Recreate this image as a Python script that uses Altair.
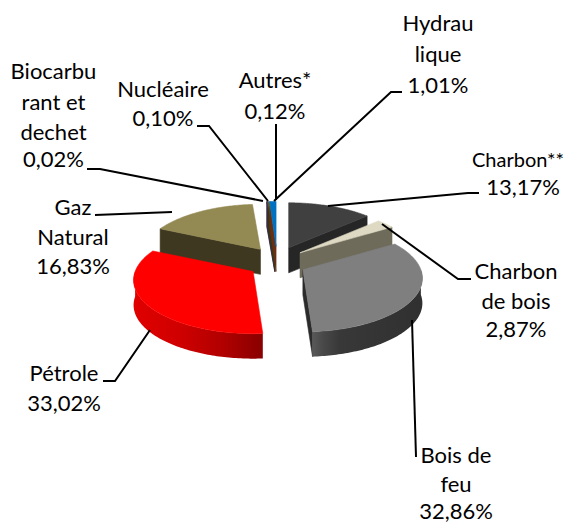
import math
import altair as alt
import pandas as pd

names = ["Charbon**", "Charbon de bois", "Bois de feu", "Pétrole", "Gaz Natural",
         "Biocarburant et dechet", "Nucléaire", "Autres*", "Hydraulique"]
values = [13.17, 2.87, 32.86, 33.02, 16.83, 0.02, 0.10, 0.12, 1.01]
label_lines = [["Charbon**", "13,17%"], ["Charbon", "de bois", "2,87%"], ["Bois de", "feu", "32,86%"],
               ["Pétrole", "33,02%"], ["Gaz", "Natural", "16,83%"],
               ["Biocarbu", "rant et", "dechet", "0,02%"], ["Nucléaire", "0,10%"],
               ["Autres*", "0,12%"], ["Hydrau", "lique", "1,01%"]]

top_colors = ["#404040", "#DDD9C3", "#7F7F7F", "#FF0000", "#938953", "#7F3F98", "#604A7B", "#4F6228", "#0070C0"]
edge_colors = ["#262626", "#6E6B5B", "#2B2B2B", "#A00000", "#3F3821", "#3A1A50", "#3A2A50", "#2F3A18", "#6B2F12"]

# projection / layout (screen pixels)
W, H = 556, 516
CX, CY = 277, 262.5
EX, EY = 29, 16
RX, RY, K = 118, 52.2, 0.159
DEPTH = 25
label_x = [[518, 523], [516] * 3, [456] * 3, [64] * 2, [73] * 3, [53.5] * 4, [163] * 2, [275] * 2, [438] * 3]
label_base = [[167, 195], [279, 308.5, 337], [463, 492, 519], [381, 411], [215, 245, 274],
              [79, 110, 140, 167], [97, 126], [88, 119], [31, 62, 93]]
label_size = [[20, 22], [22] * 3, [22] * 3, [22] * 2, [22] * 3, [22] * 4, [22] * 2, [22] * 2, [22] * 3]
leaders = [[(328, 206), (468, 193), (479, 193)],
           [(382, 224), (458, 279), (471, 279)],
           [(412, 320), (416, 457)],
           [(150, 330), (115, 381), (103, 381)],
           [(172, 212), (95, 215)],
           [(263, 201), (100, 169), (87, 169)],
           [(268, 201), (209, 126), (197, 126)],
           [(276, 200), (276, 124)],
           [(274, 201), (391, 92), (402, 92)]]

x_scale = alt.Scale(domain=[8, 8 + W], range=[0, W])
y_scale = alt.Scale(domain=[8 + H, 8], range=[H, 0])


def rim(a, c, dy=0.0):
    t = math.radians(a)
    s = 1 / (1 + K * math.cos(t))
    return (c[0] + RX * math.sin(t) * s, c[1] - RY * math.cos(t) * s + dy)


def arc_pts(a, b, c, dy=0.0):
    n = max(2, int(abs(b - a)) + 2)
    return [rim(a + (b - a) * i / (n - 1), c, dy) for i in range(n)]


def poly(pts, fill, stroke=None):
    closed = pts + [pts[0]]
    df = pd.DataFrame({"px": [p[0] for p in closed], "py": [p[1] for p in closed], "i": range(len(closed))})
    return alt.Chart(df).mark_line(filled=True, fill=fill, stroke=stroke or "transparent", strokeWidth=0.6,
                                   interpolate="linear").encode(
        x=alt.X("px:Q", scale=x_scale, axis=None),
        y=alt.Y("py:Q", scale=y_scale, axis=None),
        order="i:Q")


def grad(stops):
    return alt.Gradient(gradient="linear", x1=0, x2=1, y1=0, y2=0,
                        stops=[alt.GradientStop(offset=o, color=c) for o, c in stops])


# slice angles from the values
total = sum(values)
bounds = []
cum = 0.0
for v in values:
    bounds.append((cum / total * 360, (cum + v) / total * 360))
    cum += v


def apex(i):
    a, b = bounds[i]
    m = math.radians((a + b) / 2)
    return (CX + EX * math.sin(m), CY - EY * math.cos(m))


def top(i):
    c = apex(i)
    a, b = bounds[i]
    return poly([c] + arc_pts(a, b, c), top_colors[i], top_colors[i])


def radial(i, ang):
    c = apex(i)
    r = rim(ang, c)
    return poly([c, r, (r[0], r[1] + DEPTH), (c[0], c[1] + DEPTH)], edge_colors[i], edge_colors[i])


def outer(i, a, b, fill):
    c = apex(i)
    pts = arc_pts(a, b, c) + arc_pts(b, a, c, DEPTH)
    return poly(pts, fill)


layers = []
# tiny slices at the back
for i in [5, 6, 7]:
    layers += [radial(i, bounds[i][0]), top(i)]
layers += [radial(8, bounds[8][0]), top(8)]
# Gaz
layers += [radial(4, bounds[4][0]), top(4)]
# Charbon
layers += [radial(0, bounds[0][1]), top(0)]
# Charbon de bois
layers += [radial(1, bounds[1][1]), top(1)]
# Bois de feu
layers += [radial(2, bounds[2][1]),
           outer(2, 90, bounds[2][1], grad([(0, "#585858"), (0.1, "#484848"), (0.25, "#383838"), (1, "#303030")])),
           top(2)]
# Pétrole
layers += [outer(3, bounds[3][0], 270, grad([(0, "#E00000"), (0.35, "#D00000"), (0.7, "#B00000"), (1, "#880000")])),
           top(3)]

# leader lines
for pts in leaders:
    df = pd.DataFrame({"px": [p[0] for p in pts], "py": [p[1] for p in pts], "i": range(len(pts))})
    layers.append(alt.Chart(df).mark_line(color="black", strokeWidth=2).encode(
        x=alt.X("px:Q", scale=x_scale, axis=None),
        y=alt.Y("py:Q", scale=y_scale, axis=None),
        order="i:Q"))

# labels
rows = []
for lines, xs, bases, sizes in zip(label_lines, label_x, label_base, label_size):
    for s, lx, by, fs in zip(lines, xs, bases, sizes):
        rows.append({"t": s, "px": lx, "py": by, "fs": fs})
layers.append(alt.Chart(pd.DataFrame(rows)).mark_text(font="Lato", color="black",
                                                       align="center", baseline="alphabetic").encode(
    x=alt.X("px:Q", scale=x_scale, axis=None),
    y=alt.Y("py:Q", scale=y_scale, axis=None),
    size=alt.Size("fs:Q", scale=None, legend=None),
    text="t:N"))

chart = alt.layer(*layers).properties(width=W, height=H, padding=0, autosize=alt.AutoSizeParams(type="none"),
                                      background="white").configure_view(stroke=None)
chart.save("out.html", embed_options={"renderer": "svg", "actions": False})
